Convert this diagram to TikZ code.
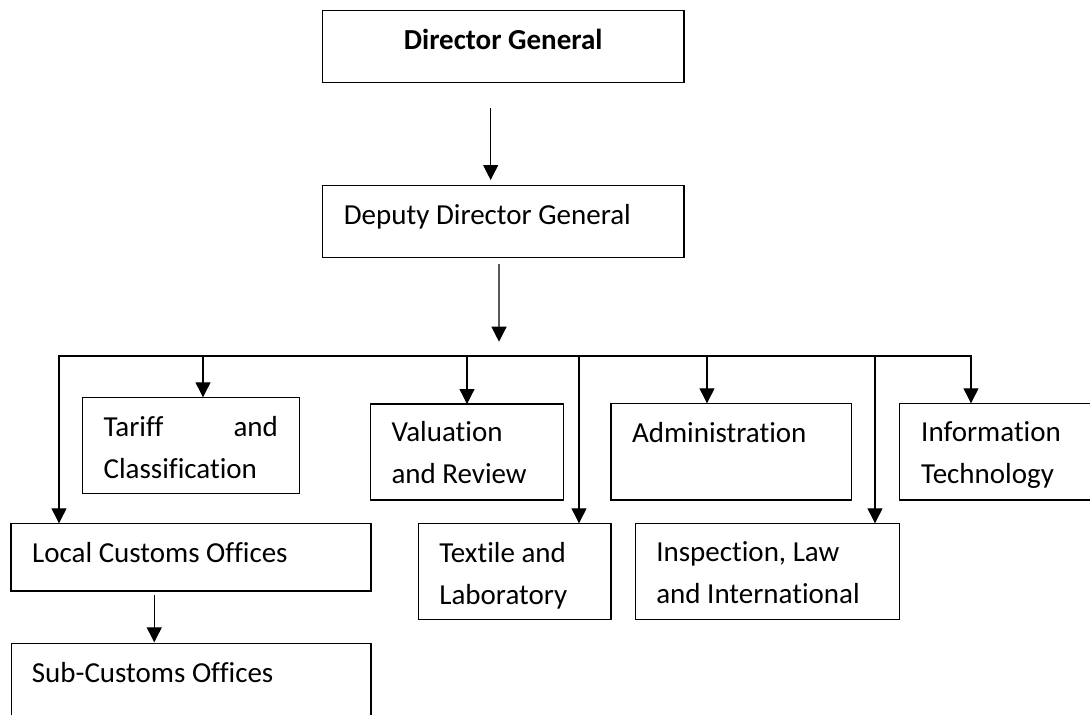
\documentclass[tikz,border=0pt]{standalone}
\usepackage{fontspec}
\setmainfont{Carlito}[Ligatures=NoCommon]
\usetikzlibrary{arrows.meta}

\begin{document}
\begin{tikzpicture}[x=1pt,y=-1pt,
  box/.style={draw, line width=1.4pt, inner sep=0pt, outer sep=0pt, anchor=north west},
  txt/.style={inner sep=0pt, anchor=base west, align=flush left, font=\fontsize{29}{42}\selectfont},
  arr/.style={line width=1.2pt, -{Triangle[length=15pt,width=15pt]}}]

\useasboundingbox (0,0) rectangle (1090,715);
\clip (0,0) rectangle (1090,715);

\node[box, minimum width=361.3pt, minimum height=72pt] (dg) at (322.6,10.7) {};
\node[txt, anchor=base] (dgt) at (503.2,49.3) {\textbf{Director General}};

\node[box, minimum width=361.3pt, minimum height=72pt] (ddg) at (322.6,185.7) {};
\node[txt] (ddgt) at (343.7,224) {Deputy Director General};

\draw[arr] ([xshift=-12.6pt,yshift=-25.6pt]dg.south) -- ([xshift=-12.6pt,yshift=5.7pt]ddg.north);

\node[box, minimum width=216.7pt, minimum height=96pt] (tar) at (82.6,397.3) {};
\node[txt, text width=174.4pt] (tart) at (103.4,436) {Tariff\hfill and\\Classification};

\node[box, minimum width=192.8pt, minimum height=96pt] (val) at (370.5,404) {};
\node[txt, text width=170pt] (valt) at (391.3,441.7) {Valuation\\and Review};

\node[box, minimum width=240.3pt, minimum height=96.7pt] (adm) at (611,403.3) {};
\node[txt] (admt) at (631.8,442.7) {Administration};

\node[box, minimum width=250pt, minimum height=96.7pt] (it) at (899.3,403.3) {};
\node[txt, text width=170pt] (itt) at (921,441.7) {Information\\Technology};

\node[box, minimum width=359.7pt, minimum height=67.7pt] (loc) at (11.1,523.3) {};
\node[txt] (loct) at (32,562.7) {Local Customs Offices};

\node[box, minimum width=192.6pt, minimum height=96pt] (tex) at (418.4,523.3) {};
\node[txt, text width=170pt] (text) at (439.2,562.3) {Textile and\\Laboratory};

\node[box, minimum width=263.9pt, minimum height=96pt] (ins) at (635.3,523.3) {};
\node[txt, text width=240pt] (inst) at (656.1,561.7) {Inspection, Law\\and International};

\node[box, minimum width=359.5pt, minimum height=100pt] (sub) at (11.5,643.3) {};
\node[txt] (subt) at (31.7,682.3) {Sub-Customs Offices};

\coordinate (bdd) at (499,356);
\draw[arr] ([xshift=-4.2pt,yshift=-6.3pt]ddg.south) -- ([yshift=14.3pt]bdd);

\foreach \n/\x in {loc/59,tar/203,val/467,tex/579,adm/707,ins/875,it/971}{
  \coordinate (b\n) at (\x,356);
  \draw[arr] (b\n) -- (b\n |- \n.north);
}
\draw[line width=1.2pt, line cap=rect] (bloc) -- (bit);

\draw[arr] ([xshift=-36.7pt,yshift=-4pt]loc.south) -- ([xshift=-37pt,yshift=1pt]sub.north);

\end{tikzpicture}
\end{document}
